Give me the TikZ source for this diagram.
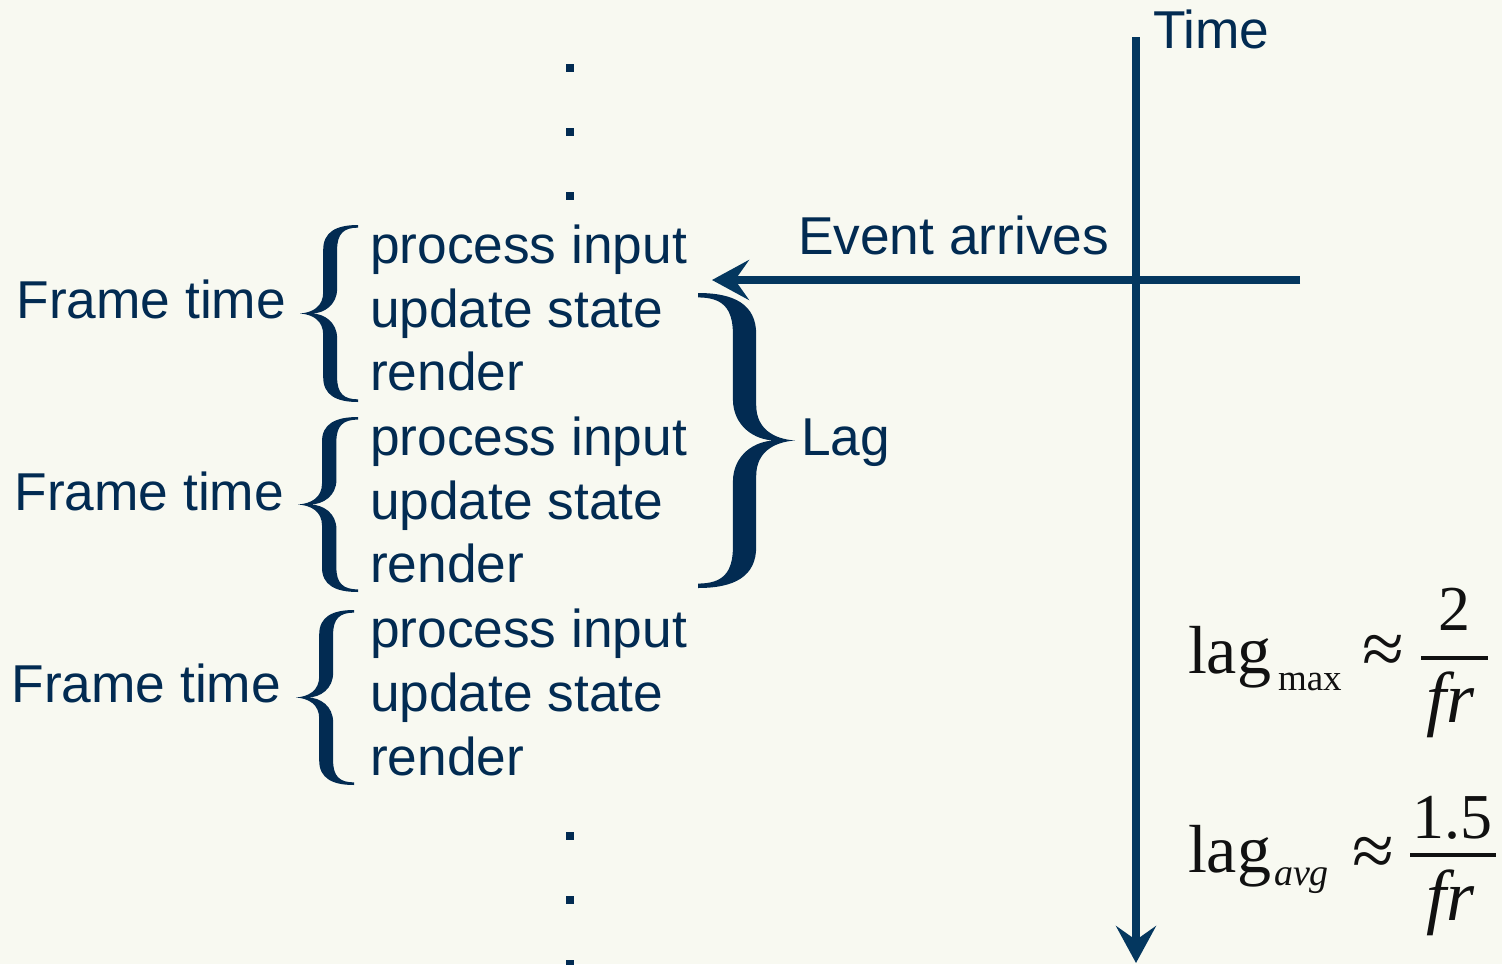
\documentclass[tikz,border=0pt]{standalone}
\usepackage{fontspec}
\setmainfont{Liberation Sans}
\newfontfamily\serifx{Liberation Serif}
\usetikzlibrary{arrows.meta}
\definecolor{bg}{HTML}{F8F9F1}
\definecolor{navy}{HTML}{022B52}
\definecolor{linec}{HTML}{04375F}
\definecolor{ink}{HTML}{111111}
\tikzset{
  lbl/.style={inner sep=0pt, outer sep=0pt, text=navy, font=\fontsize{53.3}{63}\selectfont, anchor=base west},
  lblr/.style={lbl, anchor=base east},
  mth/.style={inner sep=0pt, outer sep=0pt, text=ink, anchor=base west, font=\serifx\fontsize{68}{80}\selectfont},
  mnum/.style={mth, anchor=base, font=\serifx\fontsize{64}{76}\selectfont},
  mden/.style={mth, anchor=base, font=\serifx\itshape\fontsize{72}{84}\selectfont},
  mapx/.style={mth, anchor=center, font=\serifx\fontsize{76}{88}\selectfont},
  msub/.style={mth, font=\serifx\fontsize{37}{42}\selectfont},
  msubi/.style={mth, font=\serifx\itshape\fontsize{38}{44}\selectfont},
  fbar/.style={ink, line width=3.5pt},
  axis/.style={linec, line width=7.5pt, -{Stealth[length=37pt,width=40pt,inset=14pt]}},
  dotsq/.style={navy},
  brc/.pic={
    \fill[navy] (1,0) .. controls (0.62,0) and (0.40,0.04) .. (0.40,0.14)
      -- (0.40,0.38) .. controls (0.40,0.46) and (0.22,0.495) .. (0,0.5)
      .. controls (0.22,0.505) and (0.40,0.54) .. (0.40,0.62)
      -- (0.40,0.86) .. controls (0.40,0.96) and (0.62,1) .. (1,1)
      -- (1,0.985) .. controls (0.75,0.985) and (0.64,0.95) .. (0.64,0.86)
      -- (0.64,0.64) .. controls (0.64,0.55) and (0.42,0.5) .. (0.2,0.5)
      .. controls (0.42,0.5) and (0.64,0.45) .. (0.64,0.36)
      -- (0.64,0.14) .. controls (0.64,0.05) and (0.75,0.015) .. (1,0.015)
      -- cycle;
  }
}
\begin{document}
\begin{tikzpicture}[x=1pt,y=-1pt]
\fill[bg] (0,0) rectangle (1502,964);
\useasboundingbox (0,0) rectangle (1502,964);

% time axis
\coordinate (ttop) at (1136,37);
\coordinate (tbot) at (1136,963);
\draw[axis] (ttop) -- (tbot);
\node[lbl] (time) at (1153,48) {Time};

% event arrow
\coordinate (evstart) at (1300,280);
\coordinate (evend) at (712,280);
\draw[axis] (evstart) -- (evend);
\node[lbl] (event) at (798,254) {Event arrives};

% dots
\foreach \yy in {68,132,196,836,900,964}
  \fill[dotsq] (566,\yy-4) rectangle (574,\yy+4);

% frame blocks
\node[lblr] (ft1) at (286,318) {Frame time};
\node[lblr] (ft2) at (284,510) {Frame time};
\node[lblr] (ft3) at (281,702) {Frame time};

\pic[xscale=58, yscale=177] at (300,225) {brc};
\pic[xscale=60, yscale=175] at (298,417) {brc};
\pic[xscale=58, yscale=175] at (296,610) {brc};

\node[lbl] (p1) at (370,263) {process input};
\node[lbl] (u1) at (370,327) {update state};
\node[lbl] (r1) at (370,390) {render};
\node[lbl] (p2) at (370,455) {process input};
\node[lbl] (u2) at (370,519) {update state};
\node[lbl] (r2) at (370,582) {render};
\node[lbl] (p3) at (370,647) {process input};
\node[lbl] (u3) at (370,711) {update state};
\node[lbl] (r3) at (370,775) {render};

% lag brace
\pic[xscale=-97, yscale=295] at (795,293) {brc};
\node[lbl] (lag) at (801,455) {Lag};

% formulas
\node[mth] (lag1) at (1188,673) {lag};
\node[msub] (sub1) at (1278,690) {max};
\node[mapx] (ap1) at (1383,655) {≈};
\draw[fbar] (1421,658) -- (1488,658);
\node[mnum] (num1) at (1454,630) {2};
\node[mden] (den1) at (1450,722) {fr};

\node[mth] (lag2) at (1188,872) {lag};
\node[msubi] (sub2) at (1274,885) {avg};
\node[mapx] (ap2) at (1373,857) {≈};
\draw[fbar] (1410,855) -- (1496,855);
\node[mnum] (num2) at (1452,838) {1.5};
\node[mden] (den2) at (1450,920) {fr};
\end{tikzpicture}
\end{document}
